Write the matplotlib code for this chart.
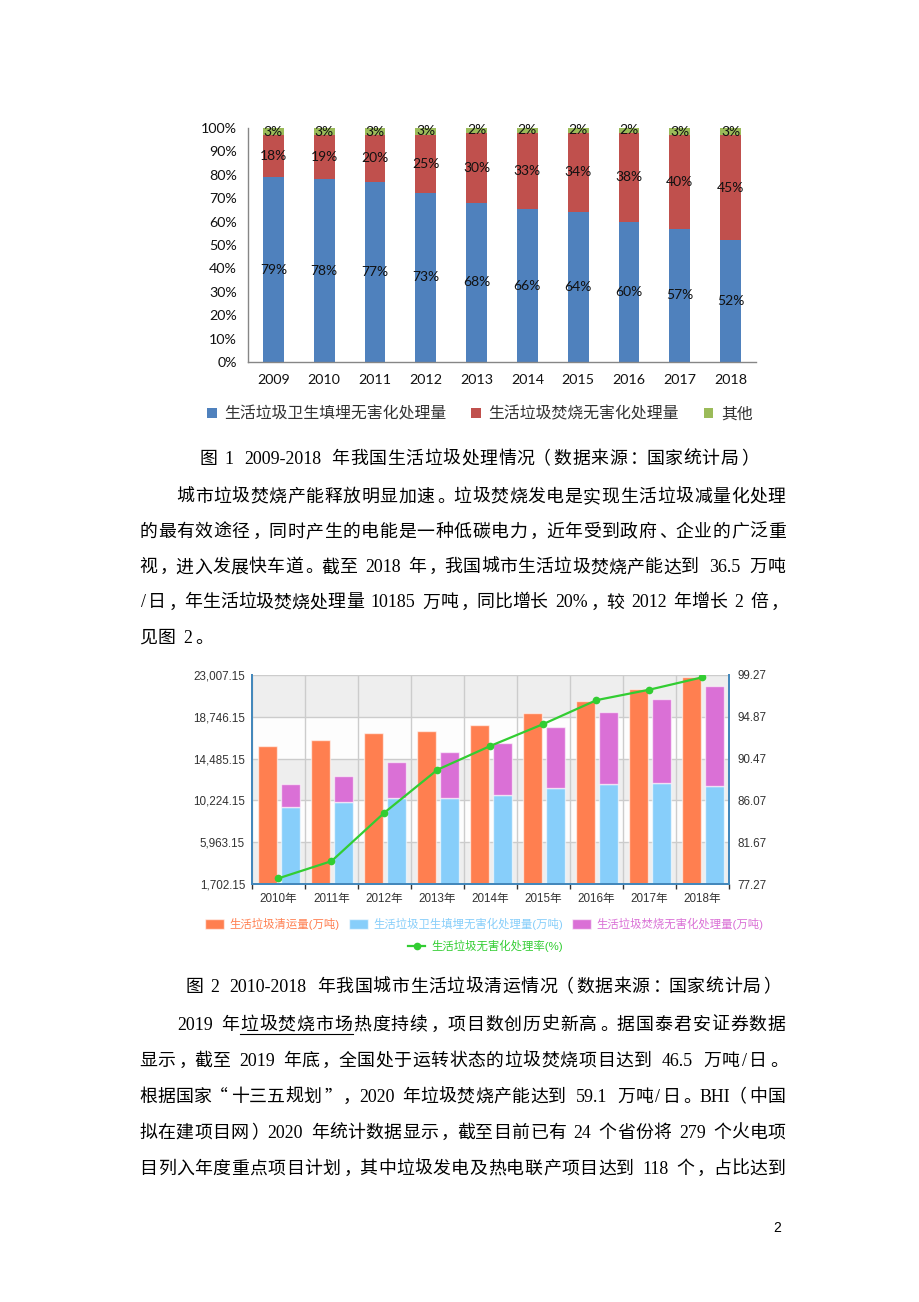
import matplotlib
matplotlib.use('Agg')
import matplotlib.pyplot as plt
import numpy as np
from matplotlib.lines import Line2D

# ---- data: figure 1 (share of treatment, %) ----
years1 = ['2009', '2010', '2011', '2012', '2013', '2014', '2015', '2016', '2017', '2018']
landfill_pct = [79, 78, 77, 73, 68, 66, 64, 60, 57, 52]
incin_pct = [18, 19, 20, 25, 30, 33, 34, 38, 40, 45]
other_pct = [3, 3, 3, 3, 2, 2, 2, 2, 3, 3]
legend1 = ['生活垃圾卫生填埋无害化处理量', '生活垃圾焚烧无害化处理量', '其他']

# ---- data: figure 2 (万吨 / %) ----
years2 = ['2010年', '2011年', '2012年', '2013年', '2014年', '2015年', '2016年', '2017年', '2018年']
collected = [15804.8, 16395.3, 17080.9, 17238.6, 17860.2, 19141.9, 20362.0, 21520.9, 22801.8]
landfill_t = [9598.3, 10063.7, 10512.5, 10492.7, 10744.3, 11483.1, 11866.4, 12037.6, 11706.0]
incin_t = [2316.7, 2599.3, 3584.1, 4633.7, 5329.9, 6175.5, 7378.4, 8463.3, 10184.9]
harmless_rate = [77.9, 79.7, 84.8, 89.3, 91.8, 94.1, 96.6, 97.7, 99.0]
left_ticks = [1702.15, 5963.15, 10224.15, 14485.15, 18746.15, 23007.15]
right_ticks = [77.27, 81.67, 86.07, 90.47, 94.87, 99.27]
legend2 = ['生活垃圾清运量(万吨)', '生活垃圾卫生填埋无害化处理量(万吨)',
           '生活垃圾焚烧无害化处理量(万吨)', '生活垃圾无害化处理率(%)']

# ---- page text ----
cap1 = '图 1 2009-2018 年我国生活垃圾处理情况（数据来源：国家统计局）'
para1 = ['城市垃圾焚烧产能释放明显加速。垃圾焚烧发电是实现生活垃圾减量化处理',
         '的最有效途径，同时产生的电能是一种低碳电力，近年受到政府、企业的广泛重',
         '视，进入发展快车道。截至 2018 年，我国城市生活垃圾焚烧产能达到 36.5 万吨',
         '/日，年生活垃圾焚烧处理量 10185 万吨，同比增长 20%，较 2012 年增长 2 倍，',
         '见图 2。']
cap2 = '图 2 2010-2018 年我国城市生活垃圾清运情况（数据来源：国家统计局）'
para2 = ['2019 年垃圾焚烧市场热度持续，项目数创历史新高。据国泰君安证券数据',
         '显示，截至 2019 年底，全国处于运转状态的垃圾焚烧项目达到 46.5 万吨/日。',
         '根据国家“十三五规划”，2020 年垃圾焚烧产能达到 59.1 万吨/日。BHI（中国',
         '拟在建项目网）2020 年统计数据显示，截至目前已有 24 个省份将 279 个火电项',
         '目列入年度重点项目计划，其中垃圾发电及热电联产项目达到 118 个，占比达到']

W, H = 920, 1302
fig = plt.figure(figsize=(W / 100, H / 100), dpi=100)
plt.rcParams['font.family'] = ['Liberation Sans', 'Noto Sans CJK SC', 'DejaVu Sans']


def fx(px):
    return px / W


def fy(py):
    return 1 - py / H


def box(l, t, r, b):
    return [l / W, 1 - b / H, (r - l) / W, (b - t) / H]


# body text, laid out cell by cell like the word document
BODY_PT = 12.9
UNIT = 18.5
WIDE = {'%': 0.85, 'B': 0.68, 'H': 0.72, 'I': 0.36, ' ': 0.38}


def tokens(s):
    out = []
    run = ''
    for c in s:
        if ord(c) < 128 and c != ' ':
            run += c
            continue
        if run:
            out.append(run)
            run = ''
        out.append(c)
    if run:
        out.append(run)
    return out


def tok_width(t):
    if len(t) == 1 and ord(t) >= 128:
        return 1.0
    return sum(WIDE.get(c, 0.5) for c in t)


def put_line(s, x0, y, x1=None, under=None):
    toks = tokens(s)
    widths = [tok_width(t) for t in toks]
    cell = UNIT if x1 is None else (x1 - x0) / sum(widths)
    base = y + 0.38 * BODY_PT * 100 / 72
    pos = x0
    spans = []
    for t, w in zip(toks, widths):
        cw = w * cell
        if t != ' ':
            cjk = len(t) == 1 and ord(t) >= 128
            fam = 'Noto Sans CJK SC' if cjk else 'Liberation Serif'
            if t in '，。、：；）”' and cjk:
                xx, ha = pos + 0.14 * cw, 'left'
            elif t in '（“' and cjk:
                xx, ha = pos + 0.86 * cw, 'right'
            else:
                xx, ha = pos + cw / 2, 'center'
            fig.text(fx(xx), fy(base), t, ha=ha, va='baseline', family=fam,
                     fontsize=BODY_PT, color='black')
        spans.append((t, pos, pos + cw))
        pos += cw
    if under:
        joined = ''
        start = None
        for t, l, r in spans:
            if under.startswith(joined + t) and t in under:
                if start is None:
                    start = l
                joined += t
                if joined == under:
                    fig.add_artist(Line2D([fx(start), fx(r)], [fy(y + UNIT * 0.62)] * 2,
                                          lw=0.8, color='black'))
                    break
            else:
                joined, start = '', None


def put_center(s, xc, y):
    total = sum(tok_width(t) for t in tokens(s)) * UNIT
    put_line(s, xc - total / 2, y)


def put_para(lines, y0, step, under=None):
    for i, s in enumerate(lines):
        x0 = 139 + (2 * UNIT if i == 0 else 0)
        y = y0 + i * step
        if i == len(lines) - 1 and len(s) < 20:
            put_line(s, x0, y)
        else:
            put_line(s, x0, y, 786, under=under if i == 0 else None)


# ================= figure 1 =================
ax1 = fig.add_axes(box(248, 128, 756, 362))
x1 = np.arange(len(years1))
tot = np.array(landfill_pct) + np.array(incin_pct) + np.array(other_pct)
s1 = np.array(landfill_pct) / tot * 100
s2 = np.array(incin_pct) / tot * 100
s3 = np.array(other_pct) / tot * 100
bw = 0.41
b1 = ax1.bar(x1, s1, bw, color='#4F81BD')
b2 = ax1.bar(x1, s2, bw, bottom=s1, color='#C0504D')
b3 = ax1.bar(x1, s3, bw, bottom=s1 + s2, color='#9BBB59')
for bars, vals in ((b1, landfill_pct), (b2, incin_pct), (b3, other_pct)):
    ax1.bar_label(bars, labels=[f'{v}%' for v in vals], label_type='center',
                  fontsize=10, family='Lato', color='#111111')
ax1.set_xlim(-0.5, len(years1) - 0.5)
ax1.set_ylim(0, 100)
ax1.set_yticks(range(0, 101, 10))
ax1.set_yticklabels([f'{v}%' for v in range(0, 101, 10)])
ax1.set_xticks(x1)
ax1.set_xticklabels(years1)
ax1.tick_params(axis='both', length=0, labelsize=10.3, colors='#111111')
ax1.tick_params(axis='y', pad=8)
ax1.tick_params(axis='x', pad=9)
for t in ax1.get_xticklabels() + ax1.get_yticklabels():
    t.set_family('Lato')
for side in ('top', 'right'):
    ax1.spines[side].set_visible(False)
for side in ('left', 'bottom'):
    ax1.spines[side].set_color('#868686')
    ax1.spines[side].set_linewidth(1.0)

fig.legend([b1, b2, b3], legend1, ncol=3, loc='center',
           bbox_to_anchor=(fx(480), fy(414)), frameon=False,
           prop={'family': ['Noto Sans CJK SC'], 'size': 11.4},
           labelcolor='#333333', handlelength=0.6, handleheight=0.6,
           handletextpad=0.48, columnspacing=1.57, borderpad=0)

put_center(cap1, 478, 457)
put_para(para1, 495, 35.2)

# ================= figure 2 =================
ax2 = fig.add_axes(box(252, 674.7, 729, 884.3))
x2 = np.arange(len(years2))
bw2 = 0.35
edge = (1, 1, 1, 0.6)
c_or = ax2.bar(x2 - 0.21, collected, bw2, color='#FF7F50', edgecolor=edge, linewidth=1, zorder=2)
c_bl = ax2.bar(x2 + 0.225, landfill_t, bw2, color='#87CEFA', edgecolor=edge, linewidth=1, zorder=2)
c_pu = ax2.bar(x2 + 0.225, incin_t, bw2, bottom=landfill_t, color='#DA70D6',
               edgecolor=edge, linewidth=1, zorder=2)
ax2.set_xlim(-0.5, len(years2) - 0.5)
ax2.set_ylim(left_ticks[0], left_ticks[-1])
ax2.set_yticks(left_ticks)
ax2.set_yticklabels([f'{v:,.2f}' for v in left_ticks])
# alternating split areas
for k in range(len(left_ticks) - 1):
    shade = '#EEEEEE' if (len(left_ticks) - 2 - k) % 2 == 0 else '#FDFDFD'
    ax2.axhspan(left_ticks[k], left_ticks[k + 1], color=shade, zorder=0, lw=0)
ax2.set_xticks(np.arange(-0.5, len(years2), 1))
ax2.set_xticklabels([])
ax2.set_xticks(x2, minor=True)
ax2.set_xticklabels(years2, minor=True)
ax2.grid(axis='y', color='#CCCCCC', lw=1, zorder=1)
ax2.grid(axis='x', which='major', color='#CCCCCC', lw=1, zorder=1)
ax2.set_axisbelow(True)
ax2.tick_params(axis='x', which='major', direction='out', length=3.6, width=1, color='#333333')
ax2.tick_params(axis='x', which='minor', length=0, pad=6, labelsize=8.4, labelcolor='#333333')
ax2.tick_params(axis='y', length=0, pad=5, labelsize=8.4, labelcolor='#333333')
ax2.spines['top'].set_visible(False)
ax2.spines['right'].set_visible(False)
for side in ('left', 'bottom'):
    ax2.spines[side].set_color('#4488BB')
    ax2.spines[side].set_linewidth(1.44)

ax2r = ax2.twinx()
ln, = ax2r.plot(x2, harmless_rate, color='#32CD32', lw=1.6, marker='o', markersize=4.5, zorder=5)
ax2r.set_ylim(right_ticks[0], right_ticks[-1])
ax2r.set_yticks(right_ticks)
ax2r.set_yticklabels([f'{v:.2f}' for v in right_ticks])
ax2r.tick_params(axis='y', length=0, pad=6, labelsize=8.4, labelcolor='#333333')
for side in ('top', 'left', 'bottom'):
    ax2r.spines[side].set_visible(False)
ax2r.spines['right'].set_color('#4488BB')
ax2r.spines['right'].set_linewidth(1.44)

fig.legend([c_or, c_bl, c_pu], legend2[:3], ncol=3, loc='center',
           bbox_to_anchor=(fx(484.5), fy(923.5)), frameon=False,
           prop={'family': ['Liberation Sans', 'Noto Sans CJK SC'], 'size': 8.2},
           labelcolor=['#FF7F50', '#87CEFA', '#DA70D6'], handlelength=1.67, handleheight=0.96,
           handletextpad=0.48, columnspacing=0.8, borderpad=0)
fig.legend([ln], legend2[3:], loc='center', bbox_to_anchor=(fx(485.5), fy(945.5)), frameon=False,
           prop={'family': ['Liberation Sans', 'Noto Sans CJK SC'], 'size': 8.2},
           labelcolor='#32CD32', handlelength=1.5, handletextpad=0.5, borderpad=0)

put_center(cap2, 482, 985)
put_para(para2, 1023, 36, under='垃圾焚烧市场')

fig.text(fx(777), fy(1228), '2', ha='center', va='center', fontsize=10, family='Liberation Sans')

fig.savefig('out.png', dpi=100)
